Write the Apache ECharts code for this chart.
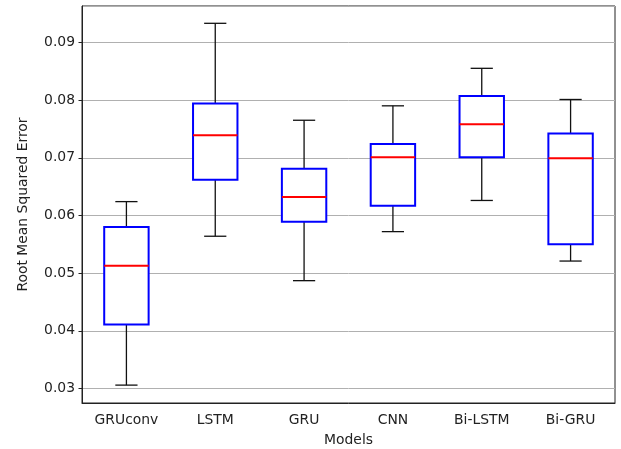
<!DOCTYPE html>
<html>
<head>
<meta charset="utf-8">
<script src="https://cdn.jsdelivr.net/npm/echarts@6/dist/echarts.min.js"></script>
<style>
  html, body { margin: 0; padding: 0; background: #fff; }
  #chart { width: 621px; height: 449px; }
</style>
</head>
<body>
<div id="chart"></div>
<script>
const models = ['GRUconv', 'LSTM', 'GRU', 'CNN', 'Bi-LSTM', 'Bi-GRU']
const whiskerLow = [0.0306, 0.0564, 0.0487, 0.0572, 0.0626, 0.0521]
const q1 = [0.0411, 0.0662, 0.0589, 0.0617, 0.0701, 0.0550]
const median = [0.0513, 0.0739, 0.0632, 0.0701, 0.0758, 0.0699]
const q3 = [0.0580, 0.0794, 0.0681, 0.0724, 0.0807, 0.0742]
const whiskerHigh = [0.0624, 0.0933, 0.0765, 0.0790, 0.0855, 0.0801]

const font = 'DejaVu Sans'
const textColor = '#222'

let myChart = echarts.init(document.getElementById('chart'))

const renderBox = (params, api) => {
  const i = api.value(0)
  const band = api.size([1, 0])[0]
  const boxHalf = band * 0.25
  const capHalf = band * 0.125
  const pLow = api.coord([i, api.value(1)])
  const pQ1 = api.coord([i, api.value(2)])
  const pMed = api.coord([i, api.value(3)])
  const pQ3 = api.coord([i, api.value(4)])
  const pHigh = api.coord([i, api.value(5)])
  const x = pMed[0]
  const blackLine = { stroke: '#111', lineWidth: 1.3 }
  return {
    type: 'group',
    children: [
      { type: 'line', shape: { x1: x, y1: pQ1[1], x2: x, y2: pLow[1] }, style: blackLine },
      { type: 'line', shape: { x1: x, y1: pQ3[1], x2: x, y2: pHigh[1] }, style: blackLine },
      { type: 'line', shape: { x1: x - capHalf, y1: pLow[1], x2: x + capHalf, y2: pLow[1] }, style: blackLine },
      { type: 'line', shape: { x1: x - capHalf, y1: pHigh[1], x2: x + capHalf, y2: pHigh[1] }, style: blackLine },
      {
        type: 'rect',
        shape: { x: x - boxHalf, y: pQ3[1], width: boxHalf * 2, height: pQ1[1] - pQ3[1] },
        style: { fill: '#fff', stroke: '#0000ff', lineWidth: 2 }
      },
      {
        type: 'line',
        shape: { x1: x - boxHalf, y1: pMed[1], x2: x + boxHalf, y2: pMed[1] },
        style: { stroke: '#ff0000', lineWidth: 2 }
      }
    ]
  }
}

let option = {
  animation: false,
  backgroundColor: '#fff',
  textStyle: { fontFamily: font },
  grid: {
    show: true,
    left: 82,
    right: 6,
    top: 6,
    bottom: 46,
    outerBoundsMode: 'none',
    containLabel: false,
    borderColor: '#222',
    borderWidth: 1,
    backgroundColor: 'transparent'
  },
  xAxis: {
    type: 'category',
    data: models,
    boundaryGap: true,
    name: 'Models',
    nameLocation: 'middle',
    nameGap: 30,
    nameTextStyle: { color: textColor, fontSize: 13.9, fontFamily: font },
    axisLine: { lineStyle: { color: '#222', width: 1 } },
    axisTick: { alignWithLabel: true, length: 3.5, lineStyle: { color: '#222' } },
    axisLabel: { color: textColor, fontSize: 13.9, fontFamily: font, margin: 10 },
    splitLine: { show: false }
  },
  yAxis: {
    type: 'value',
    min: 0.0275,
    max: 0.0963,
    splitNumber: 7,
    name: 'Root Mean Squared Error',
    nameLocation: 'middle',
    nameGap: 52,
    nameTextStyle: { color: textColor, fontSize: 13.9, fontFamily: font },
    axisLine: { show: true, lineStyle: { color: '#222', width: 1 } },
    axisTick: { show: true, length: 3.5, lineStyle: { color: '#222' } },
    axisLabel: {
      color: textColor,
      fontSize: 13.9,
      fontFamily: font,
      margin: 7,
      showMinLabel: false,
      showMaxLabel: false,
      formatter: v => v.toFixed(2)
    },
    splitLine: { show: true, lineStyle: { color: '#b0b0b0', width: 1 } }
  },
  series: [
    {
      type: 'custom',
      renderItem: renderBox,
      encode: { x: 0, y: [1, 2, 3, 4, 5] },
      data: models.map((m, i) => [i, whiskerLow[i], q1[i], median[i], q3[i], whiskerHigh[i]])
    }
  ]
}

myChart.setOption(option)
</script>
</body>
</html>
